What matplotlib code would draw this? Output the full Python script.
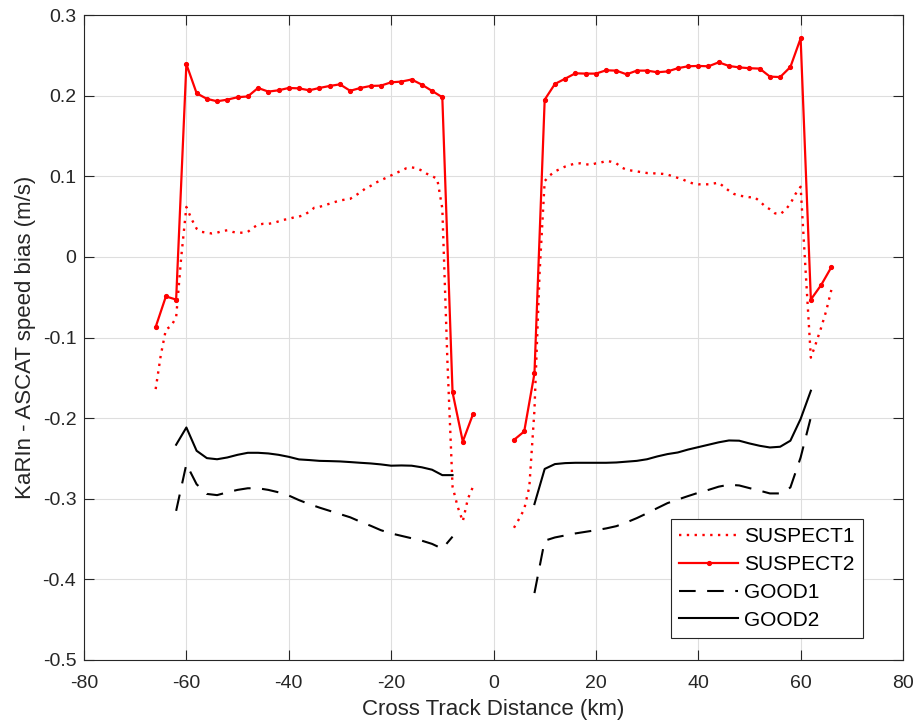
import numpy as np
import matplotlib
matplotlib.use("Agg")
import matplotlib.pyplot as plt
from matplotlib.lines import Line2D

plt.rcParams['font.family'] = ['Liberation Sans', 'DejaVu Sans']
plt.rcParams['axes.unicode_minus'] = False

# ---------------- data ----------------
# SUSPECT1 (dotted red), 1 km spacing
s1_x_left = list(range(-66, -3))
s1_y_left = [-0.164, -0.122, -0.090, -0.086, -0.075, 0.000, 0.062, 0.047, 0.035, 0.031,
             0.030, 0.029, 0.030, 0.032, 0.033, 0.031, 0.030, 0.030, 0.031, 0.036,
             0.040, 0.041, 0.041, 0.042, 0.044, 0.046, 0.047, 0.049, 0.050, 0.052,
             0.056, 0.061, 0.062, 0.064, 0.066, 0.068, 0.070, 0.071, 0.072, 0.076,
             0.080, 0.085, 0.088, 0.092, 0.095, 0.098, 0.101, 0.104, 0.107, 0.110,
             0.111, 0.110, 0.107, 0.103, 0.100, 0.097, 0.060, -0.130, -0.285, -0.310,
             -0.328, -0.300, -0.285]
s1_x_right = list(range(4, 67))
s1_y_right = [-0.336, -0.325, -0.313, -0.285, -0.190, -0.020, 0.094, 0.101, 0.106, 0.109,
              0.112, 0.114, 0.116, 0.116, 0.115, 0.114, 0.116, 0.117, 0.119, 0.118,
              0.116, 0.111, 0.108, 0.107, 0.106, 0.105, 0.104, 0.104, 0.103, 0.103,
              0.102, 0.100, 0.098, 0.096, 0.093, 0.091, 0.090, 0.090, 0.090, 0.091,
              0.092, 0.087, 0.082, 0.078, 0.076, 0.075, 0.074, 0.074, 0.069, 0.063,
              0.059, 0.054, 0.053, 0.058, 0.066, 0.078, 0.087, -0.020, -0.125, -0.107,
              -0.088, -0.067, -0.041]

# SUSPECT2 (red solid with dots), 2 km spacing
s2_x_left = list(range(-66, -3, 2))
s2_y_left = [-0.087, -0.049, -0.053, 0.239, 0.203, 0.196, 0.193, 0.195, 0.198, 0.199,
             0.2095, 0.205, 0.2066, 0.2095, 0.209, 0.2066, 0.2095, 0.212, 0.214, 0.206,
             0.2095, 0.212, 0.2124, 0.2165, 0.2174, 0.220, 0.2136, 0.2058, 0.198, -0.168,
             -0.229, -0.195]
s2_x_right = list(range(4, 67, 2))
s2_y_right = [-0.227, -0.2165, -0.1446, 0.195, 0.2145, 0.221, 0.2277, 0.2273, 0.2273, 0.2314,
              0.231, 0.2264, 0.231, 0.231, 0.229, 0.230, 0.234, 0.2364, 0.2368, 0.2364,
              0.2413, 0.2368, 0.235, 0.234, 0.2335, 0.2236, 0.223, 0.2355, 0.271, -0.0529,
              -0.035, -0.0128]

# GOOD1 (black dashed) and GOOD2 (black solid), 2 km spacing
g_x_left = list(range(-62, -7, 2))
g1_y_left = [-0.315, -0.257, -0.282, -0.294, -0.2955, -0.292, -0.289, -0.287, -0.287, -0.289,
             -0.292, -0.296, -0.3017, -0.3066, -0.311, -0.315, -0.319, -0.323, -0.3285, -0.3335,
             -0.339, -0.343, -0.346, -0.349, -0.352, -0.356, -0.362, -0.347]
g2_y_left = [-0.233, -0.2116, -0.2405, -0.2496, -0.251, -0.2488, -0.2455, -0.243, -0.243, -0.2438,
             -0.2455, -0.248, -0.2512, -0.252, -0.253, -0.2533, -0.2537, -0.2545, -0.2554, -0.2562,
             -0.2574, -0.259, -0.2587, -0.259, -0.261, -0.264, -0.2707, -0.2707]
g_x_right = list(range(8, 63, 2))
g1_y_right = [-0.417, -0.352, -0.348, -0.3455, -0.343, -0.341, -0.339, -0.3368, -0.334, -0.3293,
              -0.324, -0.318, -0.3116, -0.3054, -0.301, -0.2967, -0.2926, -0.289, -0.285, -0.2826,
              -0.2835, -0.2868, -0.290, -0.2934, -0.2934, -0.286, -0.2488, -0.199]
g2_y_right = [-0.3066, -0.263, -0.257, -0.2558, -0.2554, -0.2554, -0.2554, -0.2554, -0.255, -0.254,
              -0.253, -0.251, -0.2475, -0.2446, -0.2426, -0.239, -0.236, -0.233, -0.230, -0.2277,
              -0.228, -0.2314, -0.2343, -0.2364, -0.2355, -0.228, -0.201, -0.166]

labels = ['SUSPECT1', 'SUSPECT2', 'GOOD1', 'GOOD2']
x_ticks = [-80, -60, -40, -20, 0, 20, 40, 60, 80]
y_ticks = [-0.5, -0.4, -0.3, -0.2, -0.1, 0, 0.1, 0.2, 0.3]
y_tick_labels = ['-0.5', '-0.4', '-0.3', '-0.2', '-0.1', '0', '0.1', '0.2', '0.3']

# ---------------- plot ----------------
fig = plt.figure(figsize=(9.15, 7.2), dpi=100)
ax = fig.add_axes([84 / 915, 60 / 720, 819 / 915, 645 / 720])

gray = (0.15, 0.15, 0.15)
dot_style = dict(color='red', lw=1.7, dashes=(1, 2.3))
s2_style = dict(color='red', lw=1.6, marker='.', markersize=5.5)
g1_style = dict(color='black', lw=1.5, dashes=(8, 5.5))
g2_style = dict(color='black', lw=1.5)

ax.plot(s1_x_left, s1_y_left, **dot_style)
ax.plot(s1_x_right, s1_y_right, **dot_style)
ax.plot(s2_x_left, s2_y_left, **s2_style)
ax.plot(s2_x_right, s2_y_right, **s2_style)
ax.plot(g_x_left, g1_y_left, **g1_style)
ax.plot(g_x_right, g1_y_right, **g1_style)
ax.plot(g_x_left, g2_y_left, **g2_style)
ax.plot(g_x_right, g2_y_right, **g2_style)

ax.set_xlim(-80, 80)
ax.set_ylim(-0.5, 0.3)
ax.set_xticks(x_ticks)
ax.set_yticks(y_ticks)
ax.set_yticklabels(y_tick_labels)
ax.grid(True, color=(0.87, 0.87, 0.87), lw=0.8)
ax.set_axisbelow(True)
ax.tick_params(direction='in', length=7, width=0.8, colors=gray, labelsize=14,
               top=True, right=True, labelcolor=gray)
ax.tick_params(axis='x', pad=10.5)
ax.tick_params(axis='y', pad=5.5)
for sp in ax.spines.values():
    sp.set_color(gray)
    sp.set_linewidth(0.8)

ax.set_xlabel('Cross Track Distance (km)', fontsize=16, color=gray, labelpad=5)
ax.set_ylabel('KaRIn - ASCAT speed bias (m/s)', fontsize=16, color=gray, labelpad=5)

handles = [
    Line2D([], [], **dot_style),
    Line2D([0, 1], [0, 0], color='red', lw=1.6, marker='.', markersize=5.5, markevery=[1]),
    Line2D([], [], **g1_style),
    Line2D([], [], **g2_style),
]
leg = ax.legend(handles, labels, loc='lower right', bbox_to_anchor=(0.951, 0.034),
                borderaxespad=0, fontsize=15, frameon=True, fancybox=False,
                edgecolor=gray, framealpha=1, handlelength=2.8, handletextpad=0.3,
                labelspacing=0.42, borderpad=0.4)
leg.get_frame().set_linewidth(0.8)

fig.savefig('out.png', dpi=100)
